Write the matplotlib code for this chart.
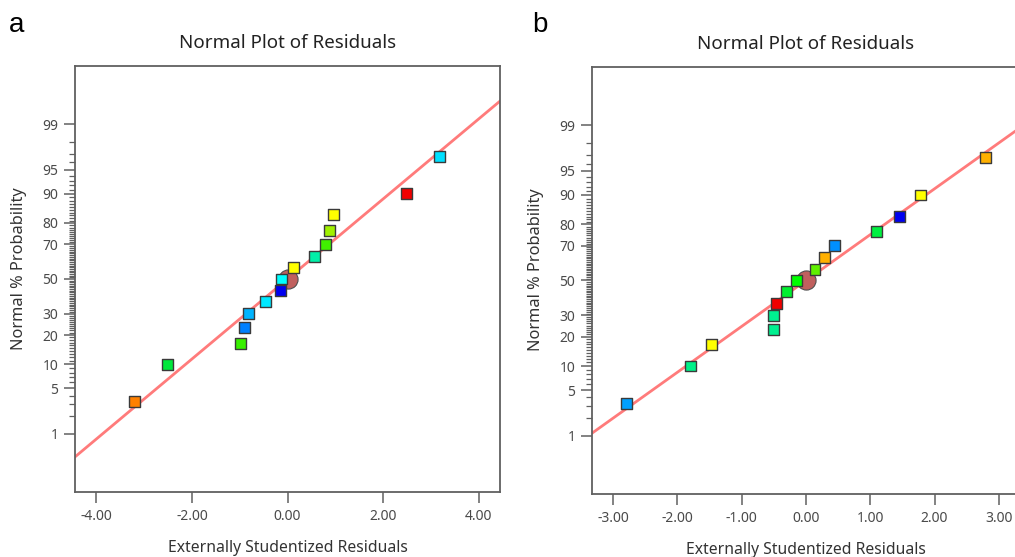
import math
import numpy as np
import matplotlib
matplotlib.use('Agg')
import matplotlib.pyplot as plt
from matplotlib.ticker import FixedLocator, NullFormatter

plt.rcParams['font.family'] = ['Noto Sans', 'DejaVu Sans']

# panel a: externally studentized residuals vs normal % probability
resid_a = [-3.21, -2.51, -0.99, -0.905, -0.815, -0.46, -0.146, -0.125,
           0.126, 0.565, 0.79, 0.88, 0.97, 2.49, 3.19]
prob_a = [3.3, 10, 16.7, 23.3, 30, 36.7, 43.3, 50, 56.7, 63.3, 70, 76.7, 83.3, 90, 96.7]
colors_a = ['#ff8000', '#00e83c', '#38f000', '#0080ff', '#00b4ff', '#00e8ff', '#0000f0',
            '#00ffff', '#ffff00', '#00f0a8', '#40f000', '#a0f000', '#ffff00', '#f00000', '#00e0ff']
line_sd_a = 1.665

# panel b
resid_b = [-2.80, -1.79, -1.47, -0.50, -0.50, -0.46, -0.30, -0.15,
           0.14, 0.29, 0.447, 1.10, 1.46, 1.78, 2.79]
prob_b = [3.3, 10, 16.7, 23.3, 30, 36.7, 43.3, 50, 56.7, 63.3, 70, 76.7, 83.3, 90, 96.7]
colors_b = ['#00a0ff', '#00f088', '#ffff00', '#00f090', '#00f090', '#f00000', '#00f030',
            '#00ff00', '#60f000', '#ffb000', '#0090ff', '#00f040', '#0000f0', '#ffff00', '#ffb000']
line_sd_b = 1.455

major_p = [1, 5, 10, 20, 30, 50, 70, 80, 90, 95, 99]
minor_p = [p for p in range(1, 100) if p not in major_p]

_erf = np.vectorize(math.erf)


def cdf_pct(z):
    z = np.asarray(z, dtype=float)
    return 50.0 * (1.0 + _erf(z / math.sqrt(2.0)))


def ppf_pct(p):
    p = np.clip(np.asarray(p, dtype=float), 1e-9, 100 - 1e-9)
    lo = np.full(p.shape, -12.0)
    hi = np.full(p.shape, 12.0)
    for _ in range(60):
        mid = 0.5 * (lo + hi)
        below = cdf_pct(mid) < p
        lo = np.where(below, mid, lo)
        hi = np.where(below, hi, mid)
    return 0.5 * (lo + hi)


W, H = 1015, 557
fig = plt.figure(figsize=(W / 100, H / 100), dpi=100)


def make_panel(box, xlim, xticks, resid, prob, colors, sd, letter, letter_x):
    l, t, r, b = box
    ax = fig.add_axes([l / W, 1 - b / H, (r - l) / W, (b - t) / H])
    ax.set_yscale('function', functions=(ppf_pct, cdf_pct))
    ax.set_xlim(*xlim)
    ax.set_ylim(cdf_pct(-3.2), cdf_pct(3.2))

    xs = np.array(xlim)
    ax.plot(xs, cdf_pct(xs / sd), color='#ff7b7b', lw=2, zorder=2)
    ax.scatter([0], [50], s=190, marker='o', facecolor='#c0605e',
               edgecolor='#505050', linewidth=0.8, zorder=3)
    ax.scatter(resid, prob, s=62, marker='s', c=colors,
               edgecolor='#3a3a3a', linewidth=1.0, zorder=4)

    ax.yaxis.set_major_locator(FixedLocator(major_p))
    ax.yaxis.set_minor_locator(FixedLocator(minor_p))
    ax.yaxis.set_minor_formatter(NullFormatter())
    ax.set_yticklabels([str(p) for p in major_p])
    ax.set_xticks(xticks)
    ax.set_xticklabels(['%.2f' % v for v in xticks])

    for s in ax.spines.values():
        s.set_color('#606060')
        s.set_linewidth(1.3)
    ax.tick_params(which='major', length=8, width=1.1, color='#606060',
                   labelcolor='#4a4a4a', labelsize=10, pad=4)
    ax.tick_params(which='minor', length=4, width=0.9, color='#606060')
    ax.tick_params(axis='x', which='minor', length=0)

    ax.set_title('Normal Plot of Residuals', fontsize=13.5, color='#222222', pad=13)
    ax.set_xlabel('Externally Studentized Residuals', fontsize=11.3,
                  color='#333333', labelpad=12)
    ax.set_ylabel('Normal % Probability', fontsize=11.8, color='#333333')
    ax.yaxis.set_label_coords(-48 / (r - l), 0.525)
    fig.text(letter_x / W, 1 - 25 / H, letter, fontsize=20, va='center',
             ha='left', family=['Liberation Sans', 'DejaVu Sans'])
    return ax


ax_a = make_panel((75, 66, 500, 492), (-4.45, 4.45), [-4, -2, 0, 2, 4],
                  resid_a, prob_a, colors_a, line_sd_a, 'a', 9)
ax_b = make_panel((592, 67, 1020, 494), (-3.33, 3.33), [-3, -2, -1, 0, 1, 2, 3],
                  resid_b, prob_b, colors_b, line_sd_b, 'b', 532)
ax_b.spines['right'].set_visible(False)

fig.savefig('out.png', dpi=100)
